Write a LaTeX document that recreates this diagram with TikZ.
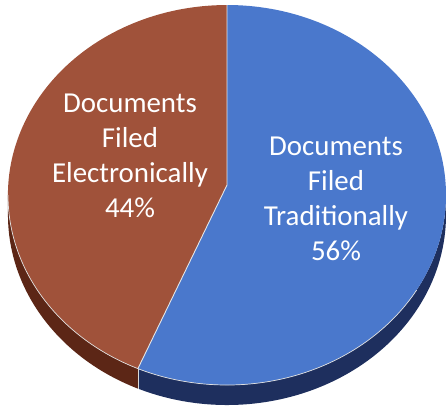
\documentclass[tikz,border=0pt]{standalone}
\usepackage{fontspec}
\setmainfont{Carlito}
\usepackage{tikz}

\definecolor{tradblue}{RGB}{74,120,204}
\definecolor{tradside}{RGB}{30,47,94}
\definecolor{elecbrown}{RGB}{160,82,58}
\definecolor{elecside}{RGB}{92,38,22}

\tikzset{
  pielabel/.style={text=white, align=center, inner sep=0pt,
    font=\fontsize{29}{35}\selectfont},
  sliceedge/.style={draw=white!80!gray, line width=0.9pt, line join=round},
}

\begin{document}
\begin{tikzpicture}[x=1bp,y=-1bp]
\useasboundingbox (0,0) rectangle (446,408);
\coordinate (C) at (227,185);
\coordinate (T) at (227,5);
\coordinate (B) at (137.9,368.6);
\coordinate (R) at (446,195);
\coordinate (L) at (8,195);
% side of the pie
\fill [tradside] (R) arc[start angle=0,end angle=114,x radius=219,y radius=190]
  -- ++(0,20) arc[start angle=114,end angle=0,x radius=219,y radius=190] -- cycle;
\fill [elecside] (B) arc[start angle=114,end angle=180,x radius=219,y radius=190]
  -- ++(0,20) arc[start angle=180,end angle=114,x radius=219,y radius=190] -- cycle;
\draw [white!70!gray, line width=0.6pt] (B) -- ++(0,20);
% top face
\fill [elecbrown] (C) -- (B) arc[start angle=114,end angle=270,x radius=219,y radius=190] -- cycle;
\fill [tradblue] (C) -- (T) arc[start angle=-90,end angle=114,x radius=219,y radius=190] -- cycle;
\draw [white!75!gray, line width=0.7pt] (L) arc[start angle=180,end angle=30,x radius=219,y radius=190];
\draw [sliceedge] (T) -- (C) -- (B);
% labels
\node [pielabel] (elec) at (130,156) {Documents\\Filed\\Electronically\\44\%};
\node [pielabel] (trad) at (336,199) {Documents\\Filed\\Traditionally\\56\%};
\end{tikzpicture}
\end{document}
